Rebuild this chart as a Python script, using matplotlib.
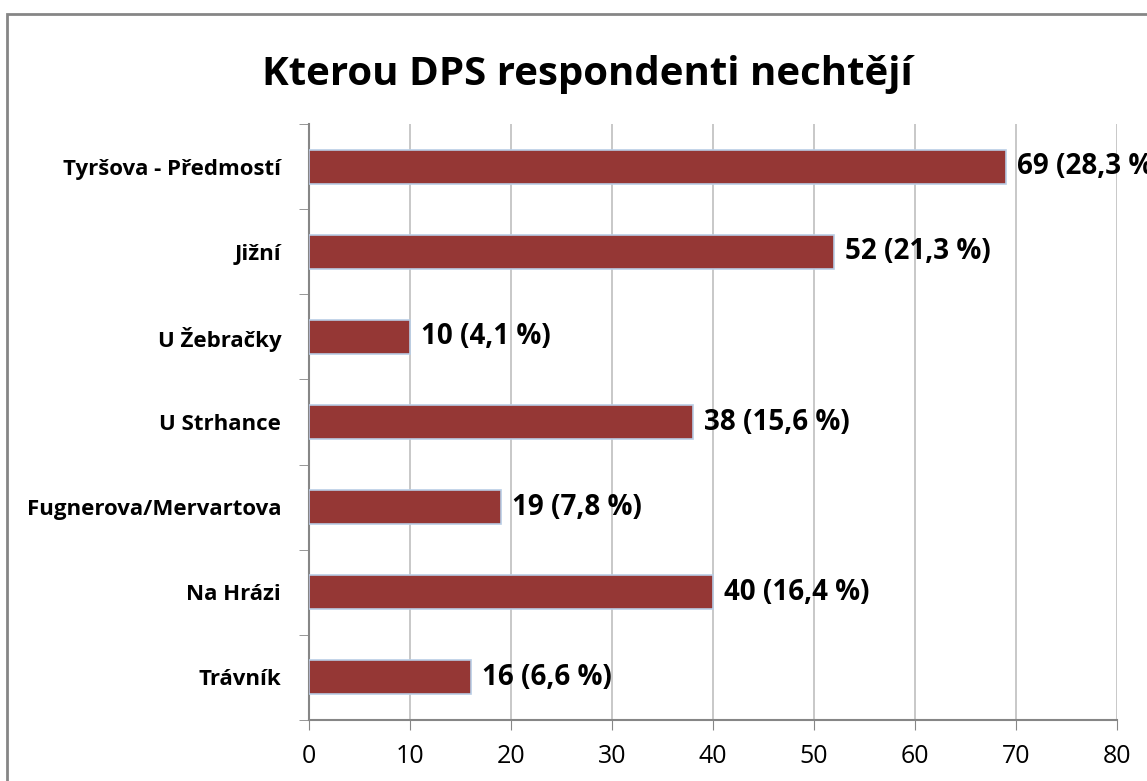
import matplotlib.pyplot as plt
from matplotlib.patches import Rectangle

categories = ['Tyršova - Předmostí', 'Jižní', 'U Žebračky', 'U Strhance',
              'Fugnerova/Mervartova', 'Na Hrázi', 'Trávník']
counts = [69, 52, 10, 38, 19, 40, 16]
labels = ['69 (28,3 %)', '52 (21,3 %)', '10 (4,1 %)', '38 (15,6 %)',
          '19 (7,8 %)', '40 (16,4 %)', '16 (6,6 %)']

plt.rcParams['font.family'] = ['Open Sans', 'DejaVu Sans']

fig = plt.figure(figsize=(11.47, 7.81), dpi=100)
ax = fig.add_axes([309/1147, 1-720/781, (1117-309)/1147, (720-124)/781])

ypos = list(range(len(categories)))[::-1]
ax.barh(ypos, counts, height=0.4, color='#953735', edgecolor='#b9cde5', linewidth=1.2, zorder=3)
for y, v, t in zip(ypos, counts, labels):
    ax.annotate(t, (v, y), xytext=(8, 0), textcoords='offset points', va='center', ha='left',
                fontsize=20, fontweight='bold', annotation_clip=False)

ax.set_xlim(0, 80)
ax.set_ylim(-0.5, len(categories)-0.5)
ax.set_xticks(range(0, 81, 10))
ax.set_yticks(ypos)
ax.set_yticklabels(categories, fontsize=16, fontweight='bold')
ax.tick_params(axis='x', labelsize=18, length=7, color='#868686', pad=10)
ax.tick_params(axis='y', length=0, pad=20)
# category separators on the y axis
ax.set_yticks([y + 0.5 for y in range(-1, len(categories))], minor=True)
ax.tick_params(axis='y', which='minor', length=7, color='#868686')
ax.grid(axis='x', color='#bfbfbf', linewidth=1.2, zorder=0)
for s in ['top', 'right']:
    ax.spines[s].set_visible(False)
for s in ['left', 'bottom']:
    ax.spines[s].set_color('#868686')
    ax.spines[s].set_linewidth(1.5)

fig.text(587/1147, 1-75/781, 'Kterou DPS respondenti nechtějí', ha='center', va='center',
         fontsize=29, fontweight='bold')

fig.patches.append(Rectangle((7/1147, -0.1), 1.2, 1-14/781+0.1, transform=fig.transFigure,
                             fill=False, edgecolor='#868686', linewidth=2))

fig.savefig('out.png', dpi=100)
